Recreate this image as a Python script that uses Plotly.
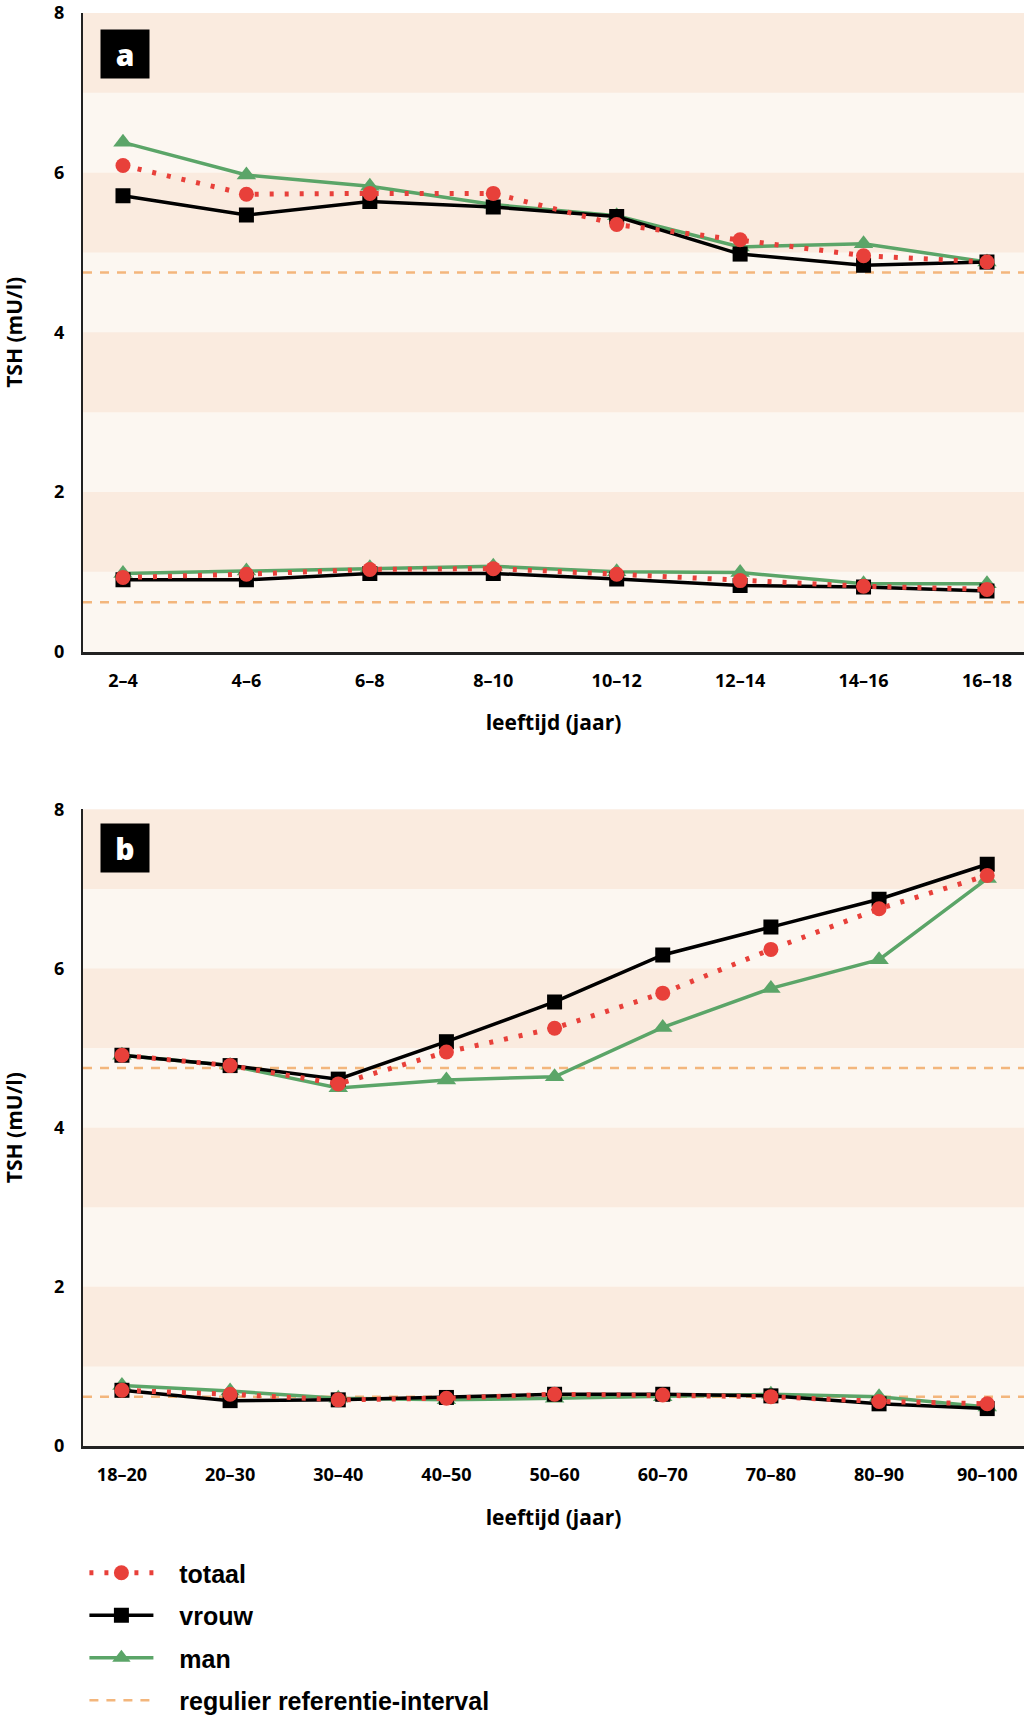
import plotly.graph_objects as go

# ---- data ----
cats_a = ["2–4", "4–6", "6–8", "8–10", "10–12", "12–14", "14–16", "16–18"]
totaal_a_hi = [6.09, 5.73, 5.74, 5.74, 5.35, 5.16, 4.96, 4.88]
vrouw_a_hi = [5.71, 5.47, 5.64, 5.57, 5.45, 4.98, 4.84, 4.88]
man_a_hi = [6.38, 5.97, 5.83, 5.60, 5.46, 5.07, 5.11, 4.88]
totaal_a_lo = [0.93, 0.97, 1.03, 1.04, 0.97, 0.89, 0.82, 0.78]
vrouw_a_lo = [0.90, 0.90, 0.98, 0.98, 0.91, 0.83, 0.81, 0.76]
man_a_lo = [0.98, 1.01, 1.05, 1.07, 1.00, 0.99, 0.85, 0.85]

cats_b = ["18–20", "20–30", "30–40", "40–50", "50–60", "60–70", "70–80", "80–90", "90–100"]
totaal_b_hi = [4.91, 4.78, 4.55, 4.95, 5.25, 5.69, 6.24, 6.75, 7.17]
vrouw_b_hi = [4.91, 4.78, 4.61, 5.08, 5.58, 6.17, 6.52, 6.87, 7.31]
man_b_hi = [4.91, 4.78, 4.50, 4.60, 4.64, 5.26, 5.75, 6.11, 7.13]
totaal_b_lo = [0.70, 0.65, 0.58, 0.60, 0.65, 0.64, 0.62, 0.56, 0.53]
vrouw_b_lo = [0.70, 0.57, 0.58, 0.61, 0.65, 0.65, 0.63, 0.53, 0.47]
man_b_lo = [0.76, 0.69, 0.60, 0.58, 0.60, 0.62, 0.65, 0.62, 0.49]

ref_interval = [0.62, 4.75]
band_edges = [(1, 2), (3, 4), (5, 6), (7, 8)]
y_ticks = [0, 2, 4, 6, 8]
panel_labels = ["a", "b"]
legend_names = ["totaal", "vrouw", "man", "regulier referentie-interval"]

# ---- styles ----
RED = "#E8403A"
GREEN = "#5BA568"
ORANGE = "#F3B67C"
BAND_DARK = "#FAEBDF"
BAND_LIGHT = "#FCF7F1"
AX_FONT = "Open Sans"
LEG_FONT = "Liberation Sans"
GAP = "\u00a0\u00a0\u00a0"

fig = go.Figure()


def add_panel(cats, tot_hi, vr_hi, man_hi, tot_lo, vr_lo, man_lo, xa, ya, show):
    for k, (tot, vr, mn) in enumerate([(tot_hi, vr_hi, man_hi), (tot_lo, vr_lo, man_lo)]):
        sl = show and k == 0
        fig.add_trace(go.Scatter(
            x=cats, y=mn, mode="lines+markers", name=GAP + legend_names[2], xaxis=xa, yaxis=ya,
            line=dict(color=GREEN, width=3.5),
            marker=dict(symbol="triangle-up", size=17, color=GREEN),
            showlegend=sl, legendrank=3, legendgroup="man"))
        fig.add_trace(go.Scatter(
            x=cats, y=vr, mode="lines+markers", name=GAP + legend_names[1], xaxis=xa, yaxis=ya,
            line=dict(color="black", width=3.5),
            marker=dict(symbol="square", size=15, color="black"),
            showlegend=sl, legendrank=2, legendgroup="vrouw"))
        fig.add_trace(go.Scatter(
            x=cats, y=tot, mode="lines+markers", name=GAP + legend_names[0], xaxis=xa, yaxis=ya,
            line=dict(color=RED, width=5, dash="4px,11px"),
            marker=dict(symbol="circle", size=15, color=RED),
            showlegend=sl, legendrank=1, legendgroup="totaal"))


add_panel(cats_a, totaal_a_hi, vrouw_a_hi, man_a_hi, totaal_a_lo, vrouw_a_lo, man_a_lo, "x", "y", True)
add_panel(cats_b, totaal_b_hi, vrouw_b_hi, man_b_hi, totaal_b_lo, vrouw_b_lo, man_b_lo, "x2", "y2", False)

fig.add_trace(go.Scatter(
    x=[None], y=[None], mode="lines", name=GAP + legend_names[3],
    line=dict(color=ORANGE, width=2.5, dash="9px,8px"),
    showlegend=True, legendrank=4, legendgroup="ref"))

shapes = []
for xr, yr in [("x", "y"), ("x2", "y2")]:
    for lo, hi in band_edges:
        shapes.append(dict(type="rect", xref=xr + " domain", yref=yr, x0=0, x1=1, y0=lo, y1=hi,
                           fillcolor=BAND_DARK, line=dict(width=0), layer="below"))
    for v in ref_interval:
        shapes.append(dict(type="line", xref=xr + " domain", yref=yr, x0=0, x1=1, y0=v, y1=v,
                           line=dict(color=ORANGE, width=2.5, dash="9px,8px"), layer="below"))
fig.update_layout(shapes=shapes)

H_TOTAL = 1723
T, B = 9, 269
plot_h = H_TOTAL - T - B
dom_a = [(1454 - 653) / plot_h, 1.0]
dom_b = [0.0, (1454 - 812) / plot_h]

xaxis_common = dict(
    type="category", showgrid=False, zeroline=False, showline=True, linecolor="#222222", linewidth=2.5,
    ticks="outside", ticklen=11, tickcolor="rgba(0,0,0,0)",
    tickfont=dict(family=AX_FONT, size=18, color="black", weight=700),
    title=dict(text="leeftijd (jaar)", font=dict(family=AX_FONT, size=21, color="black", weight=700), standoff=25),
)
yaxis_common = dict(
    range=[0, 8], tickvals=y_ticks, showgrid=False, zeroline=False, showline=True,
    linecolor="#222222", linewidth=2, ticks="outside", ticklen=13, tickcolor="rgba(0,0,0,0)",
    tickfont=dict(family=AX_FONT, size=18, color="black", weight=700),
    title=dict(text="TSH (mU/l)", font=dict(family=AX_FONT, size=21, color="black", weight=700), standoff=26),
)

fig.update_layout(
    width=1024, height=H_TOTAL,
    margin=dict(l=83, r=0, t=T, b=B),
    paper_bgcolor="white", plot_bgcolor=BAND_LIGHT,
    xaxis=dict(xaxis_common, domain=[0, 1], anchor="y", range=[-0.324, 7.30]),
    yaxis=dict(yaxis_common, domain=dom_a, anchor="x"),
    xaxis2=dict(xaxis_common, domain=[0, 1], anchor="y2", range=[-0.36, 8.34]),
    yaxis2=dict(yaxis_common, domain=dom_b, anchor="x2"),
    legend=dict(
        x=0.0015, xanchor="left", y=-(1559 - 1454) / plot_h, yanchor="top",
        font=dict(family=LEG_FONT, size=25, color="black", weight=700),
        itemwidth=64, tracegroupgap=7, bgcolor="rgba(0,0,0,0)",
    ),
    annotations=[
        dict(text=panel_labels[0], xref="paper", yref="paper", x=(125 - 83) / 941, y=(1454 - 50) / plot_h,
             xanchor="center", yanchor="middle",
             showarrow=False, bgcolor="black", width=44, height=44, borderpad=2,
             font=dict(family=AX_FONT, size=30, color="white", weight=800)),
        dict(text=panel_labels[1], xref="paper", yref="paper", x=(125 - 83) / 941, y=(1454 - 851) / plot_h,
             xanchor="center", yanchor="middle",
             showarrow=False, bgcolor="black", width=44, height=44, borderpad=2,
             font=dict(family=AX_FONT, size=30, color="white", weight=800)),
    ],
)

fig.write_html(
    "out.html",
    config={"displayModeBar": False},
    post_script="document.body.style.margin='0';document.body.style.overflow='hidden';",
)
